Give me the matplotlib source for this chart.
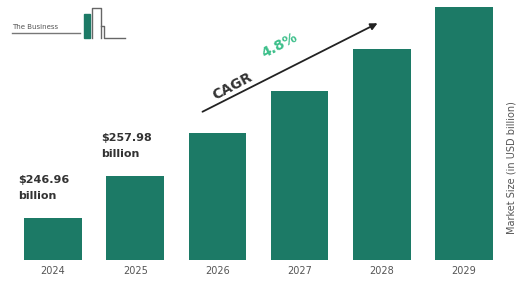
import matplotlib.pyplot as plt

years = ['2024', '2025', '2026', '2027', '2028', '2029']
values = [246.96, 257.98, 269.3, 280.4, 291.5, 302.4]
labels = ['$246.96\nbillion', '$257.98\nbillion']
cagr = '4.8%'

bar_color = '#1c7a66'

fig = plt.figure(figsize=(5.19, 2.88), dpi=100)
ax = fig.add_axes([12 / 519, 28 / 288, 493 / 519, 260 / 288])

ax.bar(range(len(years)), values, width=0.7, color=bar_color)
ax.set_xlim(-0.5, 5.5)
ax.set_ylim(235.9, 304.3)
ax.set_xticks(range(len(years)))
ax.set_xticklabels(years, fontsize=7, color='#555555')
ax.tick_params(axis='x', length=0, pad=4)
ax.set_yticks([])
for s in ax.spines.values():
    s.set_visible(False)

# value labels over first two bars
for i, txt in enumerate(labels):
    ax.annotate(txt, (i - 0.42, values[i]), xytext=(0, 12), textcoords='offset points',
                ha='left', va='bottom', fontsize=8, fontweight='bold', color='#333333',
                linespacing=1.8)

# CAGR arrow
fig.add_artist(plt.Annotation('', xy=(380 / 519, 1 - 22 / 288), xytext=(200 / 519, 1 - 113 / 288),
                              xycoords='figure fraction', textcoords='figure fraction',
                              arrowprops=dict(arrowstyle='-|>', color='#222222', lw=1.3,
                                              mutation_scale=10)))
fig.text(232 / 519, 1 - 86 / 288, 'CAGR', rotation=28, fontsize=10, fontweight='bold',
         color='#333333', ha='center', va='center')
fig.text(280 / 519, 1 - 45 / 288, cagr, rotation=28, fontsize=10, fontweight='bold',
         color='#3cbf8a', ha='center', va='center')

# y label on right
fig.text(511 / 519, 1 - 168 / 288, 'Market Size (in USD billion)', rotation=90,
         fontsize=7, color='#555555', ha='center', va='center')

# logo
fig.text(12 / 519, 1 - 27 / 288, 'The Business', fontsize=5, color='#555555',
         ha='left', va='center')
fig.add_artist(plt.Line2D([12 / 519, 80 / 519], [1 - 33 / 288, 1 - 33 / 288],
                          color='#777777', lw=1))
fig.add_artist(plt.Rectangle((84 / 519, 1 - 38 / 288), 6 / 519, 24 / 288, color=bar_color))
fig.add_artist(plt.Line2D([92 / 519, 92 / 519, 101 / 519, 101 / 519],
                          [1 - 38 / 288, 1 - 8 / 288, 1 - 8 / 288, 1 - 38 / 288],
                          color='#666666', lw=1))
fig.add_artist(plt.Line2D([101 / 519, 104 / 519, 104 / 519, 125 / 519],
                          [1 - 26 / 288, 1 - 26 / 288, 1 - 38 / 288, 1 - 38 / 288],
                          color='#666666', lw=1))

fig.savefig('out.png', dpi=100)
